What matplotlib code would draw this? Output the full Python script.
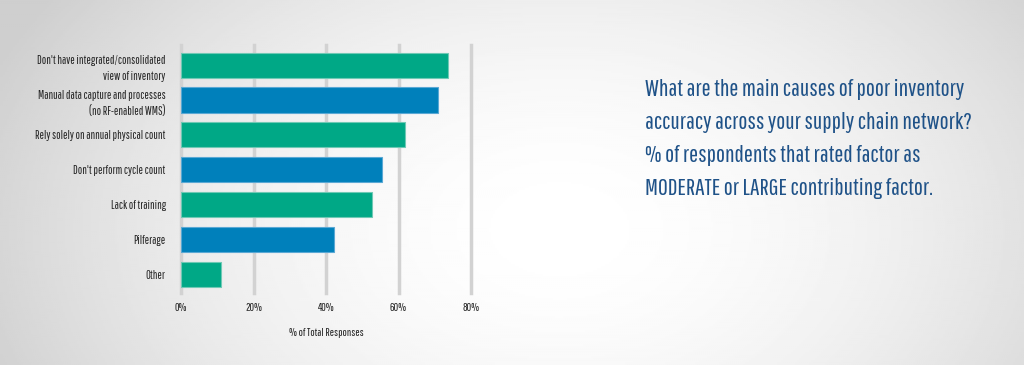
import matplotlib.pyplot as plt
import numpy as np

# datos
causas = ["Don't have integrated/consolidated\nview of inventory",
          "Manual data capture and processes\n(no RF-enabled WMS)",
          "Rely solely on annual physical count",
          "Don't perform cycle count",
          "Lack of training",
          "Pilferage",
          "Other"]
porcentajes = [73.7, 70.9, 61.7, 55.4, 52.8, 42.3, 10.9]
ticks = [0, 20, 40, 60, 80]
tick_labels = ['0%', '20%', '40%', '60%', '80%']

verde = '#00a886'
azul = '#0080bb'
colores = [verde if i % 2 == 0 else azul for i in range(len(causas))]

fuente = ['Pathway Gothic One', 'DejaVu Sans']

fig = plt.figure(figsize=(10.24, 3.65), dpi=100)

# fondo con degradado radial
bg = fig.add_axes([0, 0, 1, 1], zorder=-10)
xx, yy = np.meshgrid(np.linspace(0, 1024, 512), np.linspace(0, 365, 183))
r = np.sqrt(((xx - 560) / 560) ** 2 + ((yy - 230) / 380) ** 2)
val = 1.0 - 0.16 * np.clip(r, 0, 1.1) ** 1.8
bg.imshow(val, cmap='gray', vmin=0, vmax=1, aspect='auto', extent=[0, 1024, 365, 0],
          interpolation='bilinear')
bg.axis('off')

ax = fig.add_axes([181 / 1024, 1 - 293 / 365, 290 / 1024, 248 / 365])
ax.patch.set_alpha(0)

y = np.arange(len(causas))
barras = ax.barh(y, porcentajes, height=0.72, color=colores, linewidth=0.8, zorder=3)
for b, c in zip(barras, colores):
    b.set_edgecolor('#6fc9b5' if c == verde else '#5aa8d4')

ax.set_xlim(0, 80)
ax.set_ylim(6.54, -0.58)
for t in ticks:
    ax.axvline(t, color='#d2d2d2', linewidth=2.5, zorder=1, clip_on=False)

for s in ax.spines.values():
    s.set_visible(False)

ax.set_yticks(y)
ax.set_yticklabels(causas, family=fuente, fontsize=8.4, color='#222222',
                   linespacing=1.5)
ax.set_xticks(ticks)
ax.set_xticklabels(tick_labels, family=fuente, fontsize=8.2, color='#222222')
ax.tick_params(length=0, axis='y', pad=11)
ax.tick_params(length=0, axis='x', pad=7)
ax.set_xlabel('% of Total Responses', family=fuente, fontsize=8.2, color='#222222', labelpad=11)

pregunta = ("What are the main causes of poor inventory\n"
            "accuracy across your supply chain network?\n"
            "% of respondents that rated factor as\n"
            "MODERATE or LARGE contributing factor.")
fig.text(645 / 1024, 1 - 139 / 365, pregunta, family=fuente, fontsize=17.3,
         color='#1f5288', va='center', ha='left', linespacing=1.72)

fig.savefig('out.png', dpi=100)
